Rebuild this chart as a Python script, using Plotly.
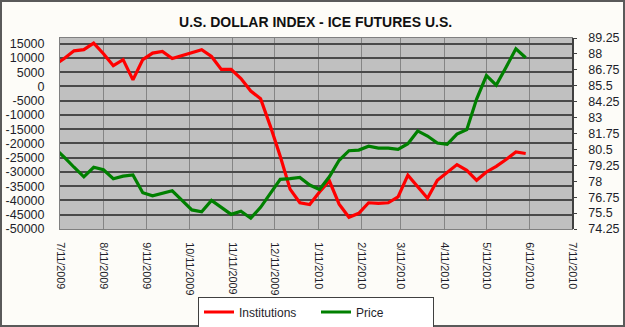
import plotly.graph_objects as go

title_text = "U.S. DOLLAR INDEX - ICE FUTURES U.S."

dates = [
    "2009-07-07", "2009-07-14", "2009-07-21", "2009-07-28",
    "2009-08-04", "2009-08-11", "2009-08-18", "2009-08-25",
    "2009-09-01", "2009-09-08", "2009-09-15", "2009-09-22", "2009-09-29",
    "2009-10-06", "2009-10-13", "2009-10-20", "2009-10-27",
    "2009-11-03", "2009-11-10", "2009-11-17", "2009-11-24",
    "2009-12-01", "2009-12-08", "2009-12-15", "2009-12-22", "2009-12-29",
    "2010-01-05", "2010-01-12", "2010-01-19", "2010-01-26",
    "2010-02-02", "2010-02-09", "2010-02-16", "2010-02-23",
    "2010-03-02", "2010-03-09", "2010-03-16", "2010-03-23", "2010-03-30",
    "2010-04-06", "2010-04-13", "2010-04-20", "2010-04-27",
    "2010-05-04", "2010-05-11", "2010-05-18", "2010-05-25",
    "2010-06-01", "2010-06-08",
]

institutions = [
    7500, 9800, 12500, 12900,
    15200, 11500, 7300, 9400,
    2300, 9400, 11700, 12300, 9800,
    10900, 12000, 12900, 10500,
    6000, 6000, 2800, -1600,
    -4300, -14000, -24500, -36000, -40800,
    -41400, -37000, -33100, -41300,
    -45900, -44500, -40800, -41000,
    -40800, -38700, -31100, -35200, -39200,
    -32900, -30300, -27400, -29400,
    -32900, -30000, -28000, -25600,
    -23000, -23500,
]

price = [
    80.6, 79.9, 79.1, 78.35,
    79.1, 78.9, 78.2, 78.4,
    78.5, 77.1, 76.85, 77.05, 77.25,
    76.5, 75.75, 75.6, 76.5,
    75.95, 75.4, 75.65, 75.1,
    75.95, 77.0, 78.15, 78.2, 78.3,
    77.7, 77.35, 78.35, 79.65,
    80.4, 80.45, 80.75, 80.6,
    80.6, 80.5, 80.95, 81.95, 81.55,
    81.0, 80.9, 81.7, 82.05,
    84.45, 86.3, 85.55, 86.95,
    88.4, 87.7,
]

x_tick_dates = [
    "2009-07-11", "2009-08-11", "2009-09-11", "2009-10-11", "2009-11-11",
    "2009-12-11", "2010-01-11", "2010-02-11", "2010-03-11", "2010-04-11",
    "2010-05-11", "2010-06-11", "2010-07-11",
]
x_tick_labels = [
    "7/11/2009", "8/11/2009", "9/11/2009", "10/11/2009", "11/11/2009",
    "12/11/2009", "1/11/2010", "2/11/2010", "3/11/2010", "4/11/2010",
    "5/11/2010", "6/11/2010", "7/11/2010",
]
left_ticks = [-50000, -45000, -40000, -35000, -30000, -25000, -20000,
              -15000, -10000, -5000, 0, 5000, 10000, 15000]
right_ticks = [74.25, 75.5, 76.75, 78, 79.25, 80.5, 81.75, 83, 84.25,
               85.5, 86.75, 88, 89.25]
right_tick_labels = ["74.25", "75.5", "76.75", "78", "79.25", "80.5", "81.75",
                     "83", "84.25", "85.5", "86.75", "88", "89.25"]

FONT = "Liberation Sans, Arial, sans-serif"
TXT = "#1e1e2a"

fig = go.Figure()
fig.add_trace(go.Scatter(
    x=dates, y=institutions, name="Institutions", mode="lines",
    line=dict(color="#ff0000", width=3.2), yaxis="y",
))
fig.add_trace(go.Scatter(
    x=dates, y=price, name="Price", mode="lines",
    line=dict(color="#008000", width=3.2), yaxis="y2",
))

W, H = 625, 327
ml, mr, mt, mb = 60, 53, 38, 98
pw, ph = W - ml - mr, H - mt - mb

fig.update_layout(
    width=W, height=H,
    margin=dict(l=ml, r=mr, t=mt, b=mb, pad=0, autoexpand=False),
    paper_bgcolor="#fdfcf8",
    plot_bgcolor="#c0c0c0",
    font=dict(family=FONT, size=12, color=TXT),
    title=dict(
        text="<b>" + title_text + "</b>",
        font=dict(family=FONT, size=14, color="#111111"),
        x=0.505, xanchor="center", xref="container",
        y=1 - 22 / H, yanchor="middle", yref="container",
    ),
    xaxis=dict(
        type="date", automargin=False,
        range=["2009-07-11", "2010-07-11"],
        tickmode="array", tickvals=x_tick_dates, ticktext=x_tick_labels,
        tickangle=90, tickfont=dict(size=10.8, color=TXT),
        showgrid=True, gridcolor="#858585", gridwidth=1,
        showline=True, linecolor="#808080", linewidth=1, mirror=True,
        ticks="", ticklabelstandoff=10,
        zeroline=False,
    ),
    yaxis=dict(
        automargin=False,
        range=[-50000, 17000],
        tickmode="array", tickvals=left_ticks,
        ticktext=[str(v) for v in left_ticks],
        showgrid=True, gridcolor="#4a4a4a", gridwidth=1.5,
        showline=True, linecolor="#808080", linewidth=1, mirror=True,
        ticks="", ticklabelstandoff=12,
        zeroline=False, tickfont=dict(size=12.5, color=TXT),
    ),
    yaxis2=dict(
        automargin=False,
        overlaying="y", side="right",
        range=[74.25, 89.25],
        tickmode="array", tickvals=right_ticks, ticktext=right_tick_labels,
        showgrid=False, zeroline=False,
        showline=True, linecolor="#404040", linewidth=1.5,
        ticks="outside", ticklen=3, tickcolor="#404040", tickwidth=1,
        ticklabelstandoff=9, tickfont=dict(size=12.5, color=TXT),
    ),
    showlegend=True,
    legend=dict(
        orientation="h",
        x=(316 - ml) / pw, xanchor="center",
        y=-(312 - (mt + ph)) / ph, yanchor="middle",
        bgcolor="#ffffff", bordercolor="#404040", borderwidth=1,
        font=dict(family=FONT, size=12, color=TXT),
        entrywidth=72, entrywidthmode="pixels",
        itemwidth=30,
        traceorder="normal",
        tracegroupgap=0,
    ),
    shapes=[dict(
        type="rect", xref="paper", yref="paper",
        x0=(1 - ml) / pw, x1=(W - 1 - ml) / pw,
        y0=-(H - 1 - mt - ph) / ph, y1=(H - 1 - mb) / ph,
        line=dict(color="#5a5a5a", width=2), fillcolor="rgba(0,0,0,0)",
        layer="below",
    )],
)

fig.write_html("out.html")
